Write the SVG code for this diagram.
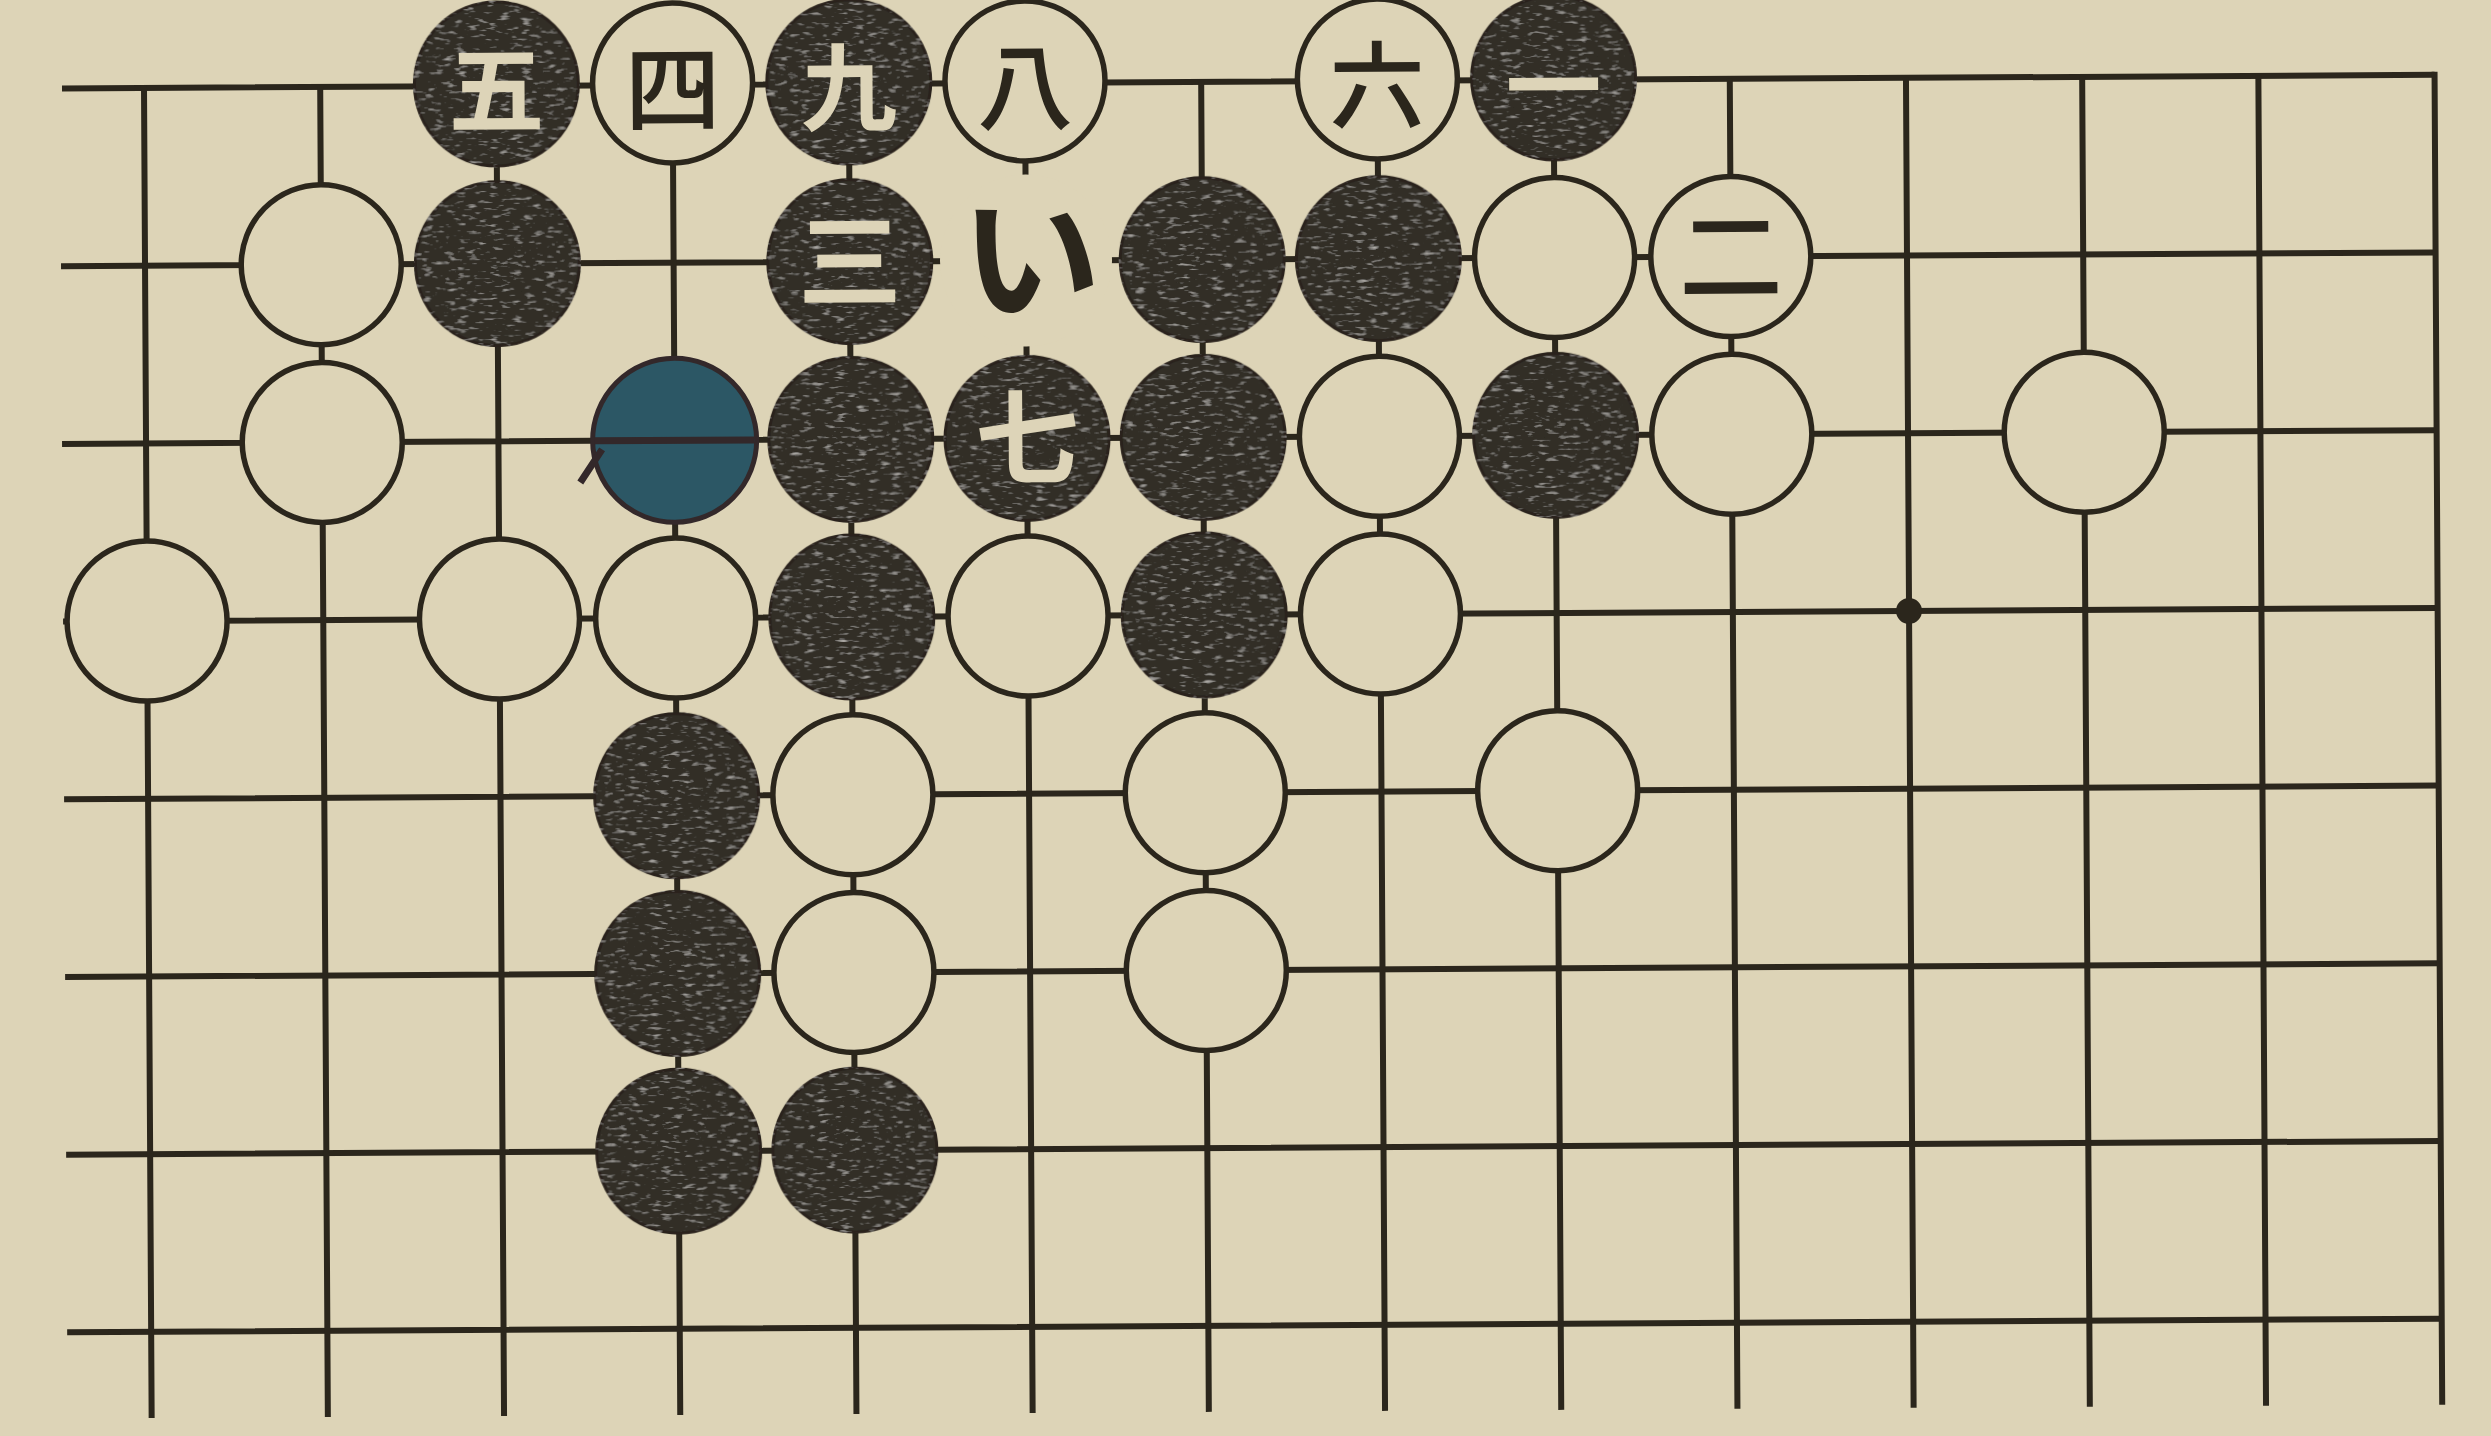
<svg xmlns="http://www.w3.org/2000/svg" width="2491" height="1436" viewBox="0 0 2491 1436">
<defs>
<style>
.ln{stroke:#2b261c;stroke-width:6;fill:none}
.w{fill:#ddd4b7;stroke:#2b261c;stroke-width:5.5}
.b{fill:#312d28;stroke:#29241c;stroke-width:3;filter:url(#grain)}
.bl{fill:#2c5765;stroke:#33282a;stroke-width:5}
.hide{fill:#ddd4b7;stroke:none}
.t{font-family:"Noto Sans CJK JP","Noto Sans CJK SC",sans-serif;text-anchor:middle;dominant-baseline:central;font-size:104px}
.top{font-size:96px}
.tw{fill:#ddd4b8;font-weight:700}
.tk{fill:#2b261c;font-weight:500}
</style>
<filter id="grain" x="-5%" y="-5%" width="110%" height="110%">
<feTurbulence type="fractalNoise" baseFrequency="0.09 0.3" numOctaves="2" seed="7" result="n"/>
<feColorMatrix in="n" type="matrix" values="0 0 0 0 0.6  0 0 0 0 0.58  0 0 0 0 0.55  2.2 0 0 0 -1.3" result="spots"/>
<feComposite in="spots" in2="SourceGraphic" operator="in" result="s2"/>
<feMerge><feMergeNode in="SourceGraphic"/><feMergeNode in="s2"/></feMerge>
</filter>
</defs>
<rect width="2491" height="1436" fill="#ddd4b7"/>
<g transform="rotate(-0.33 144 88)">
<g id="grid" class="ln">
<path d="M62 88H2434.6M60 265.7H2434.6M60 443.4H2434.6M60 621.1H2434.6M60 798.8H2434.6M60 976.5H2434.6M60 1154.2H2434.6M60 1331.9H2434.6"/>
<path d="M144 85V1418M320.2 88V1418M496.4 88V1418M672.6 88V1418M848.8 88V1418M1025 88V1418M1201.2 88V1418M1377.4 88V1418M1553.6 88V1418M1729.8 88V1418M1906 88V1418M2082.2 88V1418M2258.4 88V1418M2434.6 85V1418"/>
</g>
<g id="star"><circle cx="1906" cy="621.1" r="13" fill="#2b261c"/></g>
<g id="stones">
<g id="s-2-0"><circle class="b" cx="496.4" cy="86" r="82"/><text class="t top tw" x="496.4" y="86">五</text></g>
<g id="s-3-0"><circle class="w" cx="672.6" cy="86" r="80"/><text class="t top tk" x="672.6" y="86">四</text></g>
<g id="s-4-0"><circle class="b" cx="848.8" cy="86" r="82"/><text class="t top tw" x="848.8" y="86">九</text></g>
<g id="s-5-0"><circle class="w" cx="1025" cy="86" r="80"/><text class="t top tk" x="1025" y="86">八</text></g>
<g id="s-7-0"><circle class="w" cx="1377.4" cy="86" r="80"/><text class="t top tk" x="1377.4" y="87">六</text></g>
<g id="s-8-0"><circle class="b" cx="1553.6" cy="86" r="82"/><text class="t top tw" x="1553.6" y="88">一</text></g>

<g id="s-1-1"><circle class="w" cx="320.2" cy="265.7" r="80"/></g>
<g id="s-2-1"><circle class="b" cx="496.4" cy="265.7" r="82"/></g>
<g id="s-4-1"><circle class="b" cx="848.8" cy="265.7" r="82"/><text class="t tw" x="848.8" y="258">三</text></g>
<g id="m-5-1"><circle class="hide" cx="1025" cy="265.7" r="86"/><text class="t tk" x="1030" y="254" style="font-size:140px;font-weight:700">い</text></g>
<g id="s-6-1"><circle class="b" cx="1201.2" cy="265.7" r="82"/></g>
<g id="s-7-1"><circle class="b" cx="1377.4" cy="265.7" r="82"/></g>
<g id="s-8-1"><circle class="w" cx="1553.6" cy="265.7" r="80"/></g>
<g id="s-9-1"><circle class="w" cx="1729.8" cy="265.7" r="80"/><text class="t tk" x="1729.8" y="258">二</text></g>

<g id="s-1-2"><circle class="w" cx="320.2" cy="443.4" r="80"/></g>
<g id="s-3-2"><circle class="bl" cx="672.6" cy="443.4" r="82"/><path d="M592 443.4H752M600 452L578 485" stroke="#33282a" stroke-width="7" fill="none"/></g>
<g id="s-4-2"><circle class="b" cx="848.8" cy="443.4" r="82"/></g>
<g id="s-5-2"><circle class="b" cx="1025" cy="443.4" r="82"/><text class="t tw" x="1025" y="436">七</text></g>
<g id="s-6-2"><circle class="b" cx="1201.2" cy="443.4" r="82"/></g>
<g id="s-7-2"><circle class="w" cx="1377.4" cy="443.4" r="80"/></g>
<g id="s-8-2"><circle class="b" cx="1553.6" cy="443.4" r="82"/></g>
<g id="s-9-2"><circle class="w" cx="1729.8" cy="443.4" r="80"/></g>
<g id="s-11-2"><circle class="w" cx="2082.2" cy="443.4" r="80"/></g>

<g id="s-0-3"><circle class="w" cx="144" cy="621.1" r="80"/></g>
<g id="s-2-3"><circle class="w" cx="496.4" cy="621.1" r="80"/></g>
<g id="s-3-3"><circle class="w" cx="672.6" cy="621.1" r="80"/></g>
<g id="s-4-3"><circle class="b" cx="848.8" cy="621.1" r="82"/></g>
<g id="s-5-3"><circle class="w" cx="1025" cy="621.1" r="80"/></g>
<g id="s-6-3"><circle class="b" cx="1201.2" cy="621.1" r="82"/></g>
<g id="s-7-3"><circle class="w" cx="1377.4" cy="621.1" r="80"/></g>

<g id="s-3-4"><circle class="b" cx="672.6" cy="798.8" r="82"/></g>
<g id="s-4-4"><circle class="w" cx="848.8" cy="798.8" r="80"/></g>
<g id="s-6-4"><circle class="w" cx="1201.2" cy="798.8" r="80"/></g>
<g id="s-8-4"><circle class="w" cx="1553.6" cy="798.8" r="80"/></g>

<g id="s-3-5"><circle class="b" cx="672.6" cy="976.5" r="82"/></g>
<g id="s-4-5"><circle class="w" cx="848.8" cy="976.5" r="80"/></g>
<g id="s-6-5"><circle class="w" cx="1201.2" cy="976.5" r="80"/></g>

<g id="s-3-6"><circle class="b" cx="672.6" cy="1154.2" r="82"/></g>
<g id="s-4-6"><circle class="b" cx="848.8" cy="1154.2" r="82"/></g>
</g>
</g>
</svg>
